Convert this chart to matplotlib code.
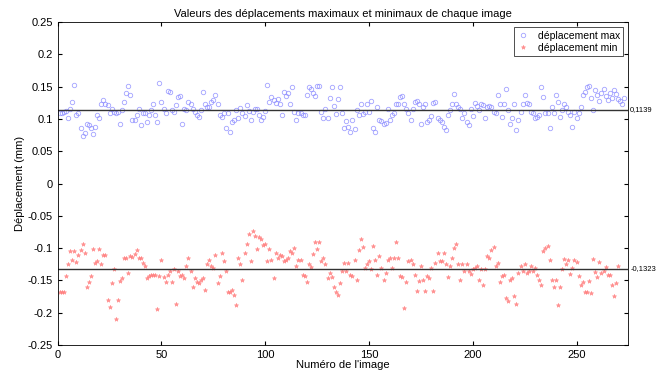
import matplotlib
matplotlib.use("Agg")
import matplotlib.pyplot as plt
import numpy as np

# max displacement per image (mm)
depl_max = [
    0.109, 0.110, 0.111, 0.113, 0.101, 0.116, 0.127, 0.153, 0.106, 0.109,
    0.086, 0.073, 0.078, 0.093, 0.091, 0.086, 0.077, 0.088, 0.106, 0.101,
    0.124, 0.130, 0.124, 0.122, 0.109, 0.116, 0.111, 0.109, 0.111, 0.093,
    0.114, 0.127, 0.140, 0.151, 0.137, 0.098, 0.099, 0.106, 0.116, 0.091,
    0.109, 0.110, 0.096, 0.106, 0.114, 0.124,
    0.106, 0.096, 0.156, 0.127, 0.116, 0.110, 0.144, 0.142, 0.114, 0.111,
    0.121, 0.134, 0.135, 0.093, 0.116, 0.114, 0.127, 0.124, 0.116, 0.111,
    0.106, 0.103, 0.114, 0.142, 0.124, 0.118, 0.118, 0.127, 0.129, 0.137,
    0.124, 0.106, 0.103, 0.109, 0.086, 0.109, 0.080, 0.096, 0.098, 0.114,
    0.101, 0.117, 0.110, 0.104, 0.121, 0.113,
    0.098, 0.111, 0.115, 0.116, 0.106, 0.098, 0.103, 0.113, 0.152, 0.127,
    0.134, 0.129, 0.125, 0.131, 0.124, 0.106, 0.142, 0.135, 0.140, 0.124,
    0.149, 0.111, 0.098, 0.110, 0.109, 0.106, 0.106, 0.137, 0.150, 0.146,
    0.140, 0.135, 0.151, 0.151, 0.111, 0.101, 0.115, 0.101, 0.132, 0.150,
    0.120, 0.108,
    0.131, 0.150, 0.110, 0.086, 0.097, 0.087, 0.080, 0.098, 0.084, 0.114,
    0.106, 0.124, 0.108, 0.111, 0.123, 0.111, 0.128, 0.086, 0.080, 0.119,
    0.098, 0.097, 0.093, 0.094, 0.115, 0.098, 0.106, 0.109, 0.123, 0.124,
    0.134, 0.135, 0.124, 0.116, 0.109, 0.098, 0.116, 0.127, 0.128, 0.124,
    0.093, 0.118,
    0.124, 0.096, 0.099, 0.105, 0.125, 0.127, 0.101, 0.098, 0.096, 0.088,
    0.083, 0.106, 0.114, 0.123, 0.138, 0.123, 0.119, 0.116, 0.101, 0.109,
    0.096, 0.091, 0.116, 0.104, 0.125, 0.120, 0.114, 0.124, 0.121, 0.101,
    0.119, 0.120, 0.119, 0.111, 0.109, 0.137, 0.124, 0.103, 0.124, 0.147,
    0.114, 0.093, 0.101, 0.124,
    0.083, 0.099, 0.111, 0.124, 0.137, 0.125, 0.124, 0.111, 0.109, 0.101,
    0.103, 0.106, 0.150, 0.134, 0.109, 0.109, 0.086, 0.119, 0.109, 0.137,
    0.127, 0.103, 0.114, 0.124, 0.119, 0.111, 0.106, 0.088, 0.111, 0.101,
    0.109, 0.119, 0.137, 0.142, 0.150, 0.151, 0.132, 0.114, 0.145, 0.137,
    0.128, 0.140, 0.146, 0.135, 0.129, 0.140, 0.132, 0.145, 0.138, 0.131,
    0.128, 0.123, 0.133,
]

# min displacement per image (mm)
depl_min = [
    -0.168, -0.168, -0.168, -0.144, -0.125, -0.104, -0.118, -0.104, -0.121, -0.110,
    -0.103, -0.093, -0.107, -0.160, -0.152, -0.144, -0.102, -0.123, -0.120, -0.102,
    -0.125, -0.111, -0.110, -0.181, -0.191, -0.154, -0.132, -0.210, -0.181, -0.151,
    -0.147, -0.115, -0.115, -0.139, -0.112, -0.114, -0.109, -0.103, -0.115, -0.115,
    -0.123, -0.128, -0.147, -0.144, -0.141, -0.141,
    -0.141, -0.194, -0.144, -0.118, -0.145, -0.153, -0.141, -0.136, -0.152, -0.133,
    -0.186, -0.136, -0.144, -0.141, -0.147, -0.128, -0.115, -0.136, -0.160, -0.147,
    -0.152, -0.154, -0.149, -0.147, -0.165, -0.125, -0.119, -0.128, -0.131, -0.110,
    -0.154, -0.144, -0.107, -0.120, -0.136, -0.168, -0.168, -0.165, -0.173, -0.189,
    -0.115, -0.125, -0.149, -0.107, -0.094, -0.078,
    -0.120, -0.073, -0.081, -0.102, -0.083, -0.086, -0.096, -0.094, -0.120, -0.102,
    -0.118, -0.147, -0.107, -0.115, -0.110, -0.112, -0.120, -0.118, -0.115, -0.104,
    -0.107, -0.100, -0.128, -0.118, -0.119, -0.141, -0.144, -0.152, -0.125, -0.130,
    -0.109, -0.091, -0.102, -0.091, -0.120, -0.115, -0.125, -0.147, -0.139, -0.145,
    -0.160, -0.168, -0.173, -0.154, -0.136, -0.123,
    -0.136, -0.123, -0.141, -0.144, -0.118, -0.149, -0.103, -0.086, -0.099, -0.131,
    -0.124, -0.120, -0.133, -0.097, -0.119, -0.141, -0.112, -0.131, -0.149, -0.139,
    -0.119, -0.115, -0.131, -0.115, -0.090, -0.115, -0.144, -0.145, -0.193, -0.153,
    -0.120, -0.119, -0.124, -0.141, -0.167, -0.151, -0.128, -0.149, -0.167, -0.144,
    -0.147, -0.131, -0.167, -0.123, -0.107, -0.120,
    -0.120, -0.107, -0.125, -0.145, -0.128, -0.115, -0.100, -0.093, -0.124, -0.149,
    -0.124, -0.136, -0.125, -0.135, -0.140, -0.133, -0.131, -0.128, -0.149, -0.133,
    -0.157, -0.133, -0.112, -0.115, -0.103, -0.098, -0.128, -0.123, -0.153, -0.144,
    -0.142, -0.178, -0.182, -0.149, -0.147, -0.175, -0.186, -0.139, -0.128, -0.135,
    -0.125, -0.139, -0.136,
    -0.128, -0.136, -0.131, -0.141, -0.149, -0.157, -0.104, -0.100, -0.097, -0.118,
    -0.149, -0.160, -0.149, -0.188, -0.160, -0.133, -0.117, -0.125, -0.118, -0.140,
    -0.131, -0.118, -0.121, -0.144, -0.157, -0.152, -0.168, -0.168, -0.151, -0.170,
    -0.117, -0.137, -0.145, -0.121, -0.139, -0.136, -0.130, -0.141, -0.142, -0.157,
    -0.174, -0.154, -0.128,
]

mean_max = 0.1139
mean_min = -0.1323

x_max = np.arange(1, len(depl_max) + 1)
x_min = np.arange(1, len(depl_min) + 1)

plt.rcParams["font.family"] = ["Liberation Sans", "DejaVu Sans"]

fig = plt.figure(figsize=(6.56, 3.70), dpi=100)
ax = fig.add_axes([0.088, 0.068, 0.870, 0.872])

ax.plot(x_max, depl_max, "o", ms=3.2, mfc="none", mec="#8c8cff", mew=0.6,
        alpha=0.8, label="déplacement max")
ax.plot(x_min, depl_min, "*", ms=3.2, color="#ff7a7a", mew=0.4,
        alpha=0.8, label="déplacement min")

# mean lines with their values on the right
ax.axhline(mean_max, color="#333333", lw=1)
ax.axhline(mean_min, color="#333333", lw=1)
ax.text(1.003, mean_max, f"{mean_max:.4f}".replace(".", ","), transform=ax.get_yaxis_transform(),
        va="center", ha="left", fontsize=5.5)
ax.text(1.003, mean_min, f"{mean_min:.4f}".replace(".", ","), transform=ax.get_yaxis_transform(),
        va="center", ha="left", fontsize=5.5)

ax.set_xlim(0, 275)
ax.set_ylim(-0.25, 0.25)
ax.set_xticks(np.arange(0, 251, 50))
yt = np.round(np.arange(-0.25, 0.2501, 0.05), 2)
ax.set_yticks(yt)
ax.set_yticklabels([("%g" % v) if v != 0 else "0" for v in yt])
ax.tick_params(direction="in", length=3, labelsize=8, top=True, right=True)
for s in ax.spines.values():
    s.set_linewidth(0.6)

ax.set_title("Valeurs des déplacements maximaux et minimaux de chaque image", fontsize=8, pad=4)
ax.set_xlabel("Numéro de l'image", fontsize=8, labelpad=0)
ax.set_ylabel("Déplacement (mm)", fontsize=8, labelpad=2)

leg = ax.legend(loc="upper right", fontsize=7.5, frameon=True, fancybox=False,
                edgecolor="black", handlelength=1.2, borderpad=0.3, labelspacing=0.2)
leg.get_frame().set_linewidth(0.6)

fig.savefig("out.png", dpi=100)
